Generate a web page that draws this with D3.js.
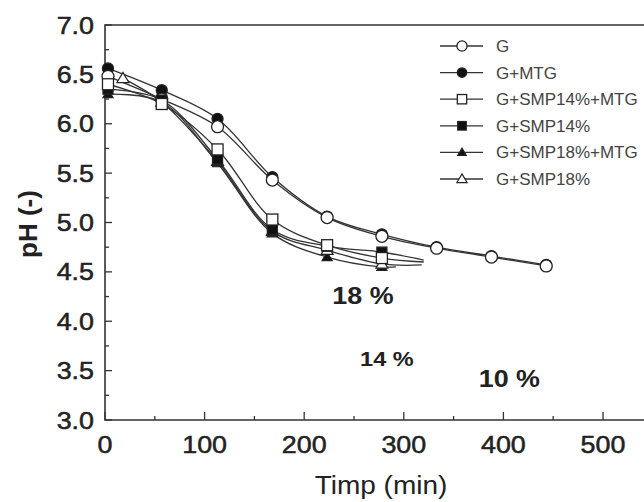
<!DOCTYPE html>
<html>
<head>
<meta charset="utf-8">
<script src="https://cdn.jsdelivr.net/npm/d3@7"></script>
<style>
  body { margin: 0; background: #fff; }
  svg { font-family: "Liberation Sans", Arial, sans-serif; }
</style>
</head>
<body>
<svg width="644" height="502"></svg>
<script>
// data
var timeLong = [3, 57, 113, 168, 223, 278, 333, 388, 443];
var timeShort = [3, 57, 113, 168, 223, 278];
var timeSmp18 = [18, 57, 113, 168, 223, 278];

var phG = [6.48, 6.25, 5.97, 5.43, 5.05, 4.86, 4.74, 4.65, 4.56];
var phGMtg = [6.56, 6.34, 6.05, 5.46, 5.06, 4.88, 4.75, 4.66, 4.57];
var phSmp14Mtg = [6.40, 6.20, 5.74, 5.03, 4.77, 4.64];
var phSmp14 = [6.35, 6.24, 5.64, 4.93, 4.76, 4.70];
var phSmp18Mtg = [6.30, 6.22, 5.60, 4.89, 4.65, 4.55];
var phSmp18 = [6.46, 6.22, 5.62, 4.91, 4.72, 4.58];

// where the fitted curves run on past the last point
var tailSmp14Mtg = [320, 4.60];
var tailSmp14 = [320, 4.62];
var tailSmp18Mtg = [292, 4.55];
var tailSmp18 = [318, 4.57];

var seriesNames = ['G', 'G+MTG', 'G+SMP14%+MTG', 'G+SMP14%', 'G+SMP18%+MTG', 'G+SMP18%'];
var xTicks = [0, 100, 200, 300, 400, 500];
var yTicks = [3.0, 3.5, 4.0, 4.5, 5.0, 5.5, 6.0, 6.5, 7.0];

var notes = [
  {text: '18 %', t: 259, ph: 4.17, size: 24},
  {text: '14 %', t: 283, ph: 3.55, size: 21},
  {text: '10 %', t: 406, ph: 3.33, size: 24}
];

var stretch = 1.12; // the picture's lettering is a bit wide

function zip(ts, vs, tail) {
  var out = [];
  for (var i = 0; i < ts.length; i++) out.push([ts[i], vs[i]]);
  return {pts: out, line: tail ? out.concat([tail]) : out};
}

// draw order: filled circles below the open ones
var series = [
  {name: 'G+MTG', d: zip(timeLong, phGMtg), shape: 'circle', fill: '#111'},
  {name: 'G', d: zip(timeLong, phG), shape: 'circle', fill: '#fff'},
  {name: 'G+SMP18%+MTG', d: zip(timeShort, phSmp18Mtg, tailSmp18Mtg), shape: 'triangle', fill: '#111'},
  {name: 'G+SMP18%', d: zip(timeSmp18, phSmp18, tailSmp18), shape: 'triangle', fill: '#fff'},
  {name: 'G+SMP14%', d: zip(timeShort, phSmp14, tailSmp14), shape: 'square', fill: '#111'},
  {name: 'G+SMP14%+MTG', d: zip(timeShort, phSmp14Mtg, tailSmp14Mtg), shape: 'square', fill: '#fff'}
];

var svg = d3.select('svg');
var x = d3.scaleLinear().domain([0, 500]).range([105, 603]);
var y = d3.scaleLinear().domain([3, 7]).range([420, 25]);

var axisColor = '#333';

// frame (right side is cut off by the picture edge)
svg.append('path')
  .attr('d', 'M644,' + y(7) + 'H' + x(0) + 'V' + y(3) + 'H644')
  .attr('fill', 'none')
  .attr('stroke', axisColor)
  .attr('stroke-width', 1.6);

// inward ticks
var xt = d3.range(0, 551, 50);
svg.append('g').selectAll('line').data(xt).enter().append('line')
  .attr('x1', function (d) { return x(d); })
  .attr('x2', function (d) { return x(d); })
  .attr('y1', y(3))
  .attr('y2', function (d) { return y(3) - (d % 100 === 0 ? 8 : 4); })
  .attr('stroke', axisColor).attr('stroke-width', 1.3);

var yt = d3.range(3, 7.01, 0.25);
svg.append('g').selectAll('line').data(yt).enter().append('line')
  .attr('x1', x(0))
  .attr('x2', function (d) { return x(0) + (Math.abs(d * 2 - Math.round(d * 2)) < 0.01 ? 7 : 4); })
  .attr('y1', function (d) { return y(d); })
  .attr('y2', function (d) { return y(d); })
  .attr('stroke', axisColor).attr('stroke-width', 1.3);

// tick labels
svg.append('g').selectAll('text').data(xTicks).enter().append('text')
  .attr('transform', function (d) { return 'translate(' + x(d) + ',453)scale(' + stretch + ',1)'; })
  .attr('text-anchor', 'middle')
  .style('font-size', '24px')
  .style('fill', '#222').style('stroke', '#222').style('stroke-width', 0.5)
  .text(function (d) { return d; });

svg.append('g').selectAll('text').data(yTicks).enter().append('text')
  .attr('transform', function (d) { return 'translate(94,' + (y(d) + 8.5) + ')scale(' + stretch + ',1)'; })
  .attr('text-anchor', 'end')
  .style('font-size', '24px')
  .style('fill', '#222').style('stroke', '#222').style('stroke-width', 0.5)
  .text(function (d) { return d.toFixed(1); });

// axis titles
svg.append('text')
  .attr('transform', 'translate(381,494)scale(' + stretch + ',1)')
  .attr('text-anchor', 'middle')
  .style('font-size', '25px')
  .style('fill', '#222')
  .text('Timp (min)');

svg.append('text')
  .attr('transform', 'translate(37,224)rotate(-90)')
  .attr('text-anchor', 'middle')
  .style('font-size', '26px')
  .style('font-weight', 'bold')
  .style('fill', '#222')
  .text('pH (-)');

// curves
var line = d3.line()
  .x(function (d) { return x(d[0]); })
  .y(function (d) { return y(d[1]); })
  .curve(d3.curveCatmullRom.alpha(0.5));

function drawMarker(g, shape, fill, cx, cy, scale) {
  var s = scale || 1;
  if (shape === 'circle') {
    g.append('circle').attr('cx', cx).attr('cy', cy)
      .attr('r', (fill === '#fff' ? 6 : 5.5) * s)
      .attr('fill', fill).attr('stroke', '#222').attr('stroke-width', 1.3);
  } else if (shape === 'square') {
    var h = (fill === '#fff' ? 5.5 : 5) * s;
    g.append('rect').attr('x', cx - h).attr('y', cy - h)
      .attr('width', 2 * h).attr('height', 2 * h)
      .attr('fill', fill).attr('stroke', '#222').attr('stroke-width', 1.3);
  } else {
    var r = (fill === '#fff' ? 6 : 5) * s;
    g.append('path')
      .attr('d', 'M' + cx + ',' + (cy - r) + 'L' + (cx + r) + ',' + (cy + r * 0.7) + 'L' + (cx - r) + ',' + (cy + r * 0.7) + 'Z')
      .attr('fill', fill).attr('stroke', '#222').attr('stroke-width', 1.2);
  }
}

var plot = svg.append('g');
series.forEach(function (s) {
  plot.append('path')
    .datum(s.d.line)
    .attr('d', line)
    .attr('fill', 'none')
    .attr('stroke', '#333')
    .attr('stroke-width', 1.3);
});
series.forEach(function (s) {
  s.d.pts.forEach(function (p) {
    drawMarker(plot, s.shape, s.fill, x(p[0]), y(p[1]));
  });
});

// legend
var legendShapes = {
  'G': ['circle', '#fff'],
  'G+MTG': ['circle', '#111'],
  'G+SMP14%+MTG': ['square', '#fff'],
  'G+SMP14%': ['square', '#111'],
  'G+SMP18%+MTG': ['triangle', '#111'],
  'G+SMP18%': ['triangle', '#fff']
};
var leg = svg.append('g');
seriesNames.forEach(function (name, i) {
  var cy = 46 + i * 26.6;
  leg.append('line').attr('x1', 440).attr('x2', 483).attr('y1', cy).attr('y2', cy)
    .attr('stroke', '#333').attr('stroke-width', 1.3);
  drawMarker(leg, legendShapes[name][0], legendShapes[name][1], 462, cy, 0.85);
  leg.append('text').attr('x', 496).attr('y', cy + 6)
    .style('font-size', '17px').style('fill', '#444')
    .text(name);
});

// percentage notes
svg.append('g').selectAll('text').data(notes).enter().append('text')
  .attr('transform', function (d) { return 'translate(' + x(d.t) + ',' + y(d.ph) + ')scale(' + stretch + ',1)'; })
  .attr('text-anchor', 'middle')
  .style('font-size', function (d) { return d.size + 'px'; })
  .style('font-weight', 'bold')
  .style('fill', '#222')
  .text(function (d) { return d.text; });
</script>
</body>
</html>
